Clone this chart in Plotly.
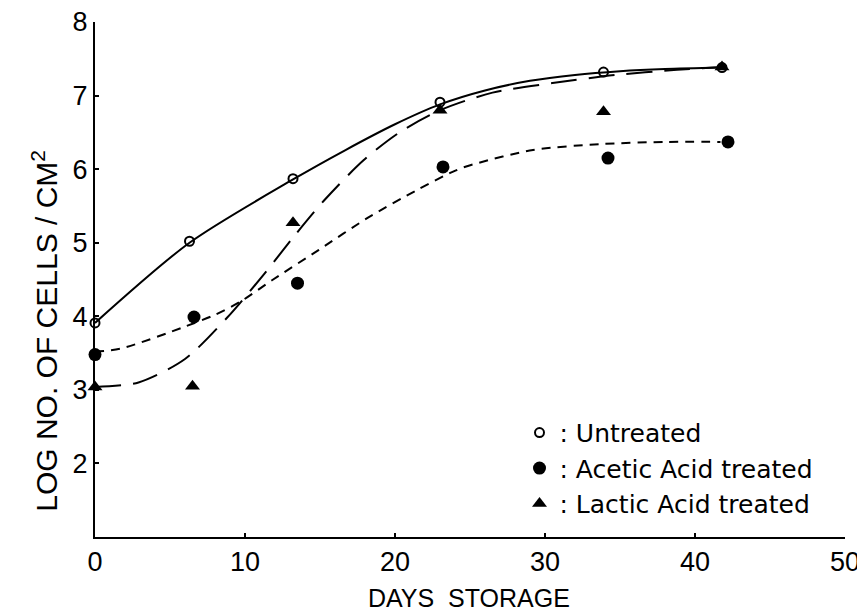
import plotly.graph_objects as go

# Measured points
days_untreated = [0, 6.3, 13.2, 23.0, 33.9, 41.8]
log_untreated = [3.91, 5.02, 5.87, 6.91, 7.32, 7.38]

days_acetic = [0, 6.6, 13.5, 23.2, 34.2, 42.2]
log_acetic = [3.48, 3.99, 4.45, 6.03, 6.15, 6.37]

days_lactic = [0, 6.5, 13.2, 23.0, 33.9, 41.8]
log_lactic = [3.04, 3.05, 5.27, 6.80, 6.78, 7.39]

# Fitted curves
curve_untreated_x = [0, 6.3, 13.2, 16.7, 20.0, 23.0, 26.0, 29.0, 32.0, 35.0, 38.0, 41.8]
curve_untreated_y = [3.91, 5.0, 5.86, 6.26, 6.61, 6.88, 7.07, 7.2, 7.28, 7.33, 7.36, 7.38]

curve_acetic_x = [0, 1.7, 6.0, 8.0, 9.7, 11.8, 14.9, 18.2, 21.5, 23.8, 24.8, 29.2, 33.7, 38.1, 41.7]
curve_acetic_y = [3.52, 3.56, 3.86, 4.02, 4.2, 4.49, 4.9, 5.34, 5.72, 5.96, 6.04, 6.26, 6.34, 6.37, 6.37]

curve_lactic_x = [0, 2.9, 6.0, 8.8, 11.3, 13.2, 15.3, 17.9, 20.3, 23.0, 26.5, 30.5, 34.7, 38.8, 41.8]
curve_lactic_y = [3.04, 3.1, 3.42, 3.98, 4.58, 5.07, 5.58, 6.12, 6.5, 6.80, 7.04, 7.17, 7.28, 7.35, 7.39]

x_ticks = [0, 10, 20, 30, 40, 50]
y_ticks = [2, 3, 4, 5, 6, 7, 8]

FONT = "Liberation Sans"
LEGEND_FONT = "DejaVu Sans"

fig = go.Figure()

fig.add_trace(go.Scatter(x=curve_untreated_x, y=curve_untreated_y, mode="lines",
                         line=dict(color="black", width=2, shape="spline", smoothing=0.8),
                         showlegend=False, hoverinfo="skip", cliponaxis=False))
fig.add_trace(go.Scatter(x=curve_acetic_x, y=curve_acetic_y, mode="lines",
                         line=dict(color="black", width=2, shape="spline", smoothing=0.8,
                                   dash="9px,7px"),
                         showlegend=False, hoverinfo="skip", cliponaxis=False))
fig.add_trace(go.Scatter(x=curve_lactic_x, y=curve_lactic_y, mode="lines",
                         line=dict(color="black", width=2, shape="spline", smoothing=0.8,
                                   dash="26px,12px"),
                         showlegend=False, hoverinfo="skip", cliponaxis=False))

fig.add_trace(go.Scatter(x=days_untreated, y=log_untreated, mode="markers",
                         name=": Untreated",
                         marker=dict(symbol="circle-open", size=9, color="black",
                                     line=dict(width=2, color="black")),
                         cliponaxis=False))
fig.add_trace(go.Scatter(x=days_acetic, y=log_acetic, mode="markers",
                         name=": Acetic Acid treated",
                         marker=dict(symbol="circle", size=13, color="black"),
                         cliponaxis=False))
fig.add_trace(go.Scatter(x=days_lactic, y=log_lactic, mode="markers",
                         name=": Lactic Acid treated",
                         marker=dict(symbol="triangle-up", size=13, color="black"),
                         cliponaxis=False))

# The page body adds an 8px offset, so the figure is 8px smaller and margins shifted
fig.update_layout(
    width=857, height=608,
    margin=dict(l=87, r=20, t=14, b=79),
    paper_bgcolor="white", plot_bgcolor="white",
    font=dict(family=FONT, color="black"),
    legend=dict(x=0.566, y=0.247, xanchor="left", yanchor="top",
                font=dict(size=25, family=LEGEND_FONT, color="black"),
                bgcolor="rgba(0,0,0,0)", itemwidth=30, tracegroupgap=0),
    annotations=[
        dict(text="LOG NO. OF CELLS / CM<sup>2</sup>", textangle=-90,
             x=-0.067, y=0.40, xref="paper", yref="paper",
             xanchor="center", yanchor="middle", showarrow=False,
             font=dict(size=30, family=FONT, color="black")),
        dict(text="DAYS  STORAGE", x=0.498, y=-0.118, xref="paper", yref="paper",
             xanchor="center", yanchor="middle", showarrow=False,
             font=dict(size=25, family=FONT, color="black")),
    ],
)

fig.update_xaxes(range=[0, 50], tickvals=x_ticks, ticktext=[str(v) for v in x_ticks],
                 showline=True, linecolor="black", linewidth=2, showgrid=False, zeroline=False,
                 ticks="inside", ticklen=4, tickcolor="black", tickwidth=2,
                 ticklabeloverflow="allow", automargin=False,
                 tickfont=dict(size=27, family=FONT, color="black"))
fig.update_yaxes(range=[1, 8], tickvals=y_ticks, ticktext=[str(v) for v in y_ticks],
                 showline=True, linecolor="black", linewidth=2, showgrid=False, zeroline=False,
                 ticks="inside", ticklen=4, tickcolor="black", tickwidth=2,
                 ticklabeloverflow="allow", automargin=False,
                 tickfont=dict(size=27, family=FONT, color="black"))

fig.write_html("out.html")
